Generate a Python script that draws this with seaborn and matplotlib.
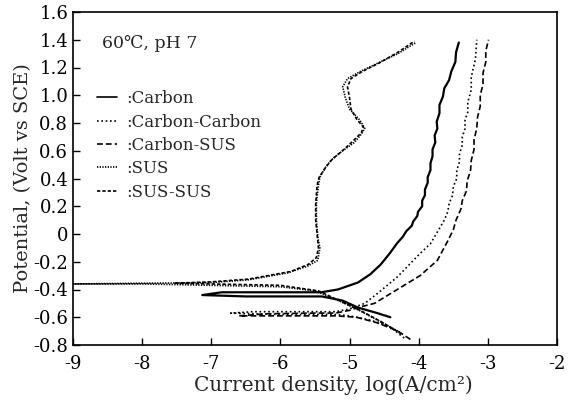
import numpy as np
import pandas as pd
import matplotlib
matplotlib.use("Agg")
import matplotlib.pyplot as plt
import seaborn as sns

# ---- data ----
series_names = ["Carbon", "Carbon-Carbon", "Carbon-SUS", "SUS", "SUS-SUS"]

carbon_x = [-4.41, -4.60, -4.88, -5.10, -5.40, -5.90, -6.50, -7.13,
            -6.85, -6.30, -5.70, -5.41, -5.17, -4.88, -4.70, -4.55, -4.42, -4.31,
            -4.23, -4.18, -4.10, -4.08, -4.02, -4.01, -3.95, -3.95, -3.91, -3.91,
            -3.87, -3.87, -3.83, -3.83, -3.80, -3.80, -3.76, -3.77, -3.73, -3.74,
            -3.70, -3.70, -3.65, -3.63, -3.56, -3.53, -3.47, -3.46, -3.42]
carbon_y = [-0.60, -0.57, -0.53, -0.48, -0.45, -0.45, -0.45, -0.44,
            -0.42, -0.42, -0.42, -0.42, -0.40, -0.35, -0.29, -0.22, -0.14, -0.065,
            -0.02, 0.02, 0.06, 0.09, 0.13, 0.16, 0.20, 0.24, 0.28, 0.32,
            0.37, 0.41, 0.46, 0.51, 0.56, 0.61, 0.66, 0.71, 0.76, 0.81,
            0.87, 0.93, 0.99, 1.05, 1.11, 1.17, 1.24, 1.31, 1.38]

cc_x = [-4.21, -4.41, -4.70, -5.00, -5.20, -6.00, -6.72,
        -6.40, -5.60, -5.20, -5.00, -4.78, -4.60, -4.31, -3.98, -3.83, -3.63,
        -3.58, -3.56, -3.51, -3.50, -3.45, -3.45, -3.41, -3.41, -3.37, -3.37,
        -3.33, -3.33, -3.29, -3.29, -3.24, -3.24, -3.18, -3.16]
cc_y = [-0.75, -0.67, -0.62, -0.59, -0.58, -0.58, -0.57,
        -0.56, -0.56, -0.56, -0.54, -0.50, -0.43, -0.31, -0.14, -0.07, 0.10,
        0.16, 0.22, 0.28, 0.34, 0.40, 0.46, 0.52, 0.58, 0.64, 0.70,
        0.76, 0.82, 0.88, 0.95, 1.04, 1.13, 1.26, 1.40]

cs_x = [-4.12, -4.30, -4.60, -4.90, -5.20, -6.00, -6.60,
        -6.20, -5.50, -5.20, -5.00, -4.88, -4.64, -4.31, -3.98, -3.73, -3.58,
        -3.50, -3.46, -3.39, -3.37, -3.31, -3.30, -3.25, -3.24, -3.20, -3.20,
        -3.16, -3.15, -3.11, -3.11, -3.07, -3.07, -3.03, -3.03, -2.99]
cs_y = [-0.76, -0.70, -0.64, -0.60, -0.59, -0.59, -0.59,
        -0.575, -0.57, -0.57, -0.55, -0.53, -0.50, -0.40, -0.30, -0.19, -0.05,
        0.03, 0.10, 0.18, 0.24, 0.31, 0.38, 0.46, 0.53, 0.61, 0.68,
        0.76, 0.84, 0.92, 1.00, 1.08, 1.16, 1.24, 1.32, 1.40]

sus_x = [-4.30, -4.60, -4.90, -5.20, -5.50, -6.00, -7.00, -8.00, -9.00,
         -8.00, -7.00, -6.46, -5.89, -5.60, -5.46, -5.43, -5.46, -5.48, -5.48,
         -5.45, -5.43, -5.35, -5.27, -5.10, -4.93, -4.83, -4.78, -4.85, -5.00,
         -5.06, -5.10, -5.03, -4.85, -4.60, -4.30, -4.04]
sus_y = [-0.70, -0.62, -0.54, -0.47, -0.41, -0.38, -0.37, -0.36, -0.36,
         -0.355, -0.35, -0.33, -0.28, -0.23, -0.19, -0.10, -0.02, 0.10, 0.22,
         0.35, 0.41, 0.48, 0.53, 0.60, 0.66, 0.72, 0.76, 0.82, 0.90,
         0.98, 1.06, 1.12, 1.17, 1.23, 1.30, 1.38]

ss_x = [-4.25, -4.55, -4.85, -5.15, -5.45, -6.00, -7.00, -7.54,
        -7.00, -6.46, -5.85, -5.60, -5.48, -5.45, -5.47, -5.49, -5.49,
        -5.47, -5.44, -5.33, -5.25, -5.08, -4.95, -4.83, -4.80, -4.90, -4.98,
        -5.00, -5.03, -4.98, -4.82, -4.58, -4.30, -4.06]
ss_y = [-0.72, -0.63, -0.55, -0.48, -0.41, -0.37, -0.36, -0.355,
        -0.345, -0.325, -0.27, -0.22, -0.17, -0.10, 0.00, 0.10, 0.22,
        0.35, 0.41, 0.49, 0.54, 0.61, 0.67, 0.73, 0.77, 0.83, 0.90,
        0.98, 1.06, 1.12, 1.17, 1.23, 1.31, 1.39]

x_ticks = [-9, -8, -7, -6, -5, -4, -3, -2]
y_ticks = [1.6, 1.4, 1.2, 1.0, 0.8, 0.6, 0.4, 0.2, 0, -0.2, -0.4, -0.6, -0.8]
y_tick_labels = ["1.6", "1.4", "1.2", "1.0", "0.8", "0.6", "0.4", "0.2", "0",
                 "-0.2", "-0.4", "-0.6", "-0.8"]

# ---- build table ----
frames = []
for name, xs, ys in zip(series_names,
                        [carbon_x, cc_x, cs_x, sus_x, ss_x],
                        [carbon_y, cc_y, cs_y, sus_y, ss_y]):
    frames.append(pd.DataFrame({"x": xs, "y": ys, "series": name,
                                "order": range(len(xs))}))
df = pd.concat(frames, ignore_index=True)

sns.set_theme(style="white")
plt.rcParams["font.family"] = ["DejaVu Serif", "Noto Sans CJK JP"]
plt.rcParams["axes.unicode_minus"] = False

fig = plt.figure(figsize=(5.81, 4.04), dpi=100)
ax = fig.add_axes([73 / 581, 1 - 345 / 404, (557 - 73) / 581, (345 - 12) / 404])

palette = {n: "black" for n in series_names}
dashes = {"Carbon": "", "Carbon-Carbon": (1, 1.6), "Carbon-SUS": (3.5, 1.8),
          "SUS": (0.8, 0.8), "SUS-SUS": (2, 1.2)}
sns.lineplot(data=df, x="x", y="y", hue="series", style="series",
             hue_order=series_names, style_order=series_names,
             palette=palette, dashes=dashes, sort=False, estimator=None,
             linewidth=1.2, ax=ax, legend=True)
ax.lines[0].set_linewidth(1.6)

ax.set_xlim(-9, -2)
ax.set_ylim(-0.8, 1.6)
ax.set_xticks(x_ticks)
ax.set_xticklabels([str(v) for v in x_ticks])
ax.set_yticks(y_ticks)
ax.set_yticklabels(y_tick_labels)
ax.tick_params(direction="in", length=5, width=1, labelsize=13,
               bottom=True, left=True, top=False, right=False, colors="black")
ax.tick_params(axis="x", pad=7)
for s in ax.spines.values():
    s.set_color("black")
    s.set_linewidth(1.2)

ax.set_xlabel("Current density, log(A/cm²)", fontsize=14.5)
ax.xaxis.set_label_coords(0.537, -0.092)
ax.set_ylabel("Potential, (Volt vs SCE)", fontsize=14, labelpad=1)

handles, labels = ax.get_legend_handles_labels()
ax.legend(handles, [":" + l for l in labels], loc="upper left",
          bbox_to_anchor=(0.035, 0.785), frameon=False, fontsize=12,
          handlelength=1.2, handletextpad=0.6, labelspacing=0.38,
          borderaxespad=0)

ax.text(0.06, 0.905, "60℃, pH 7", transform=ax.transAxes, fontsize=12.5,
        va="center", ha="left",
        family=["DejaVu Serif", "Noto Sans CJK JP"])

fig.savefig("out.png", dpi=100)
